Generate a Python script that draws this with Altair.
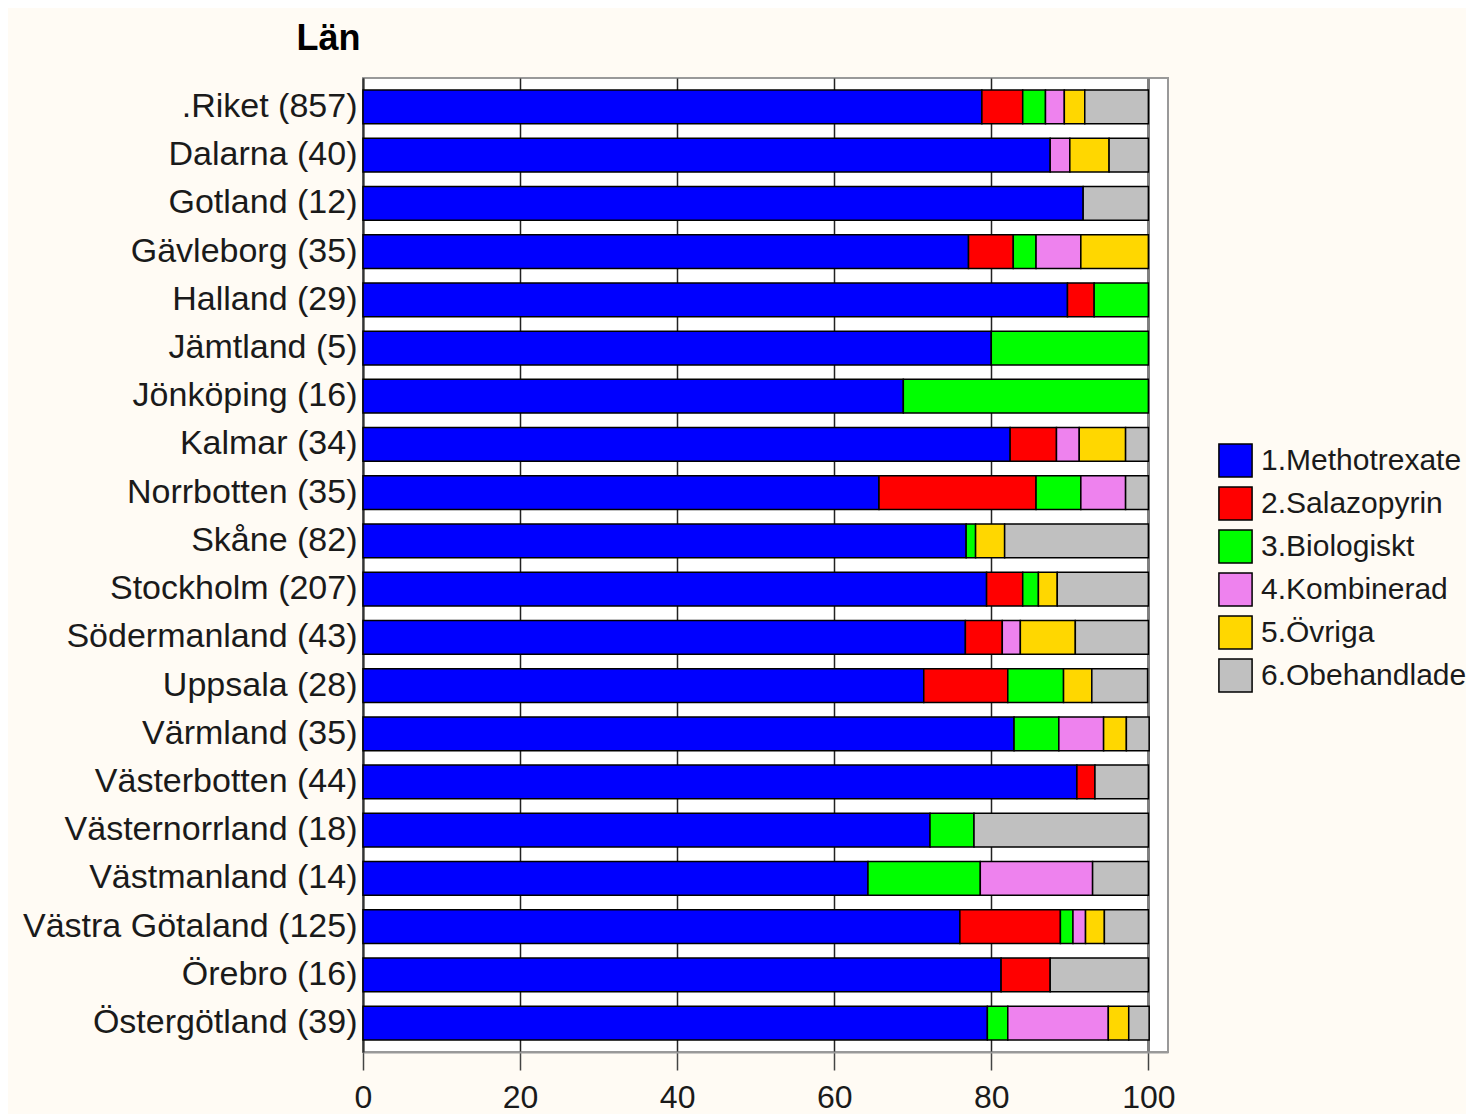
import altair as alt
import pandas as pd

lan = [".Riket (857)", "Dalarna (40)", "Gotland (12)", "Gävleborg (35)", "Halland (29)",
       "Jämtland (5)", "Jönköping (16)", "Kalmar (34)", "Norrbotten (35)", "Skåne (82)",
       "Stockholm (207)", "Södermanland (43)", "Uppsala (28)", "Värmland (35)",
       "Västerbotten (44)", "Västernorrland (18)", "Västmanland (14)",
       "Västra Götaland (125)", "Örebro (16)", "Östergötland (39)"]

kategorier = ["1.Methotrexate", "2.Salazopyrin", "3.Biologiskt", "4.Kombinerad", "5.Övriga", "6.Obehandlade"]
farger = ["#0000FF", "#FF0000", "#00FF00", "#EE82EE", "#FFD700", "#C0C0C0"]

methotrexate = [78.8, 87.5, 91.7, 77.1, 89.7, 80.0, 68.8, 82.4, 65.7, 76.8, 79.4, 76.7, 71.4, 82.9, 90.9, 72.2, 64.3, 76.0, 81.25, 79.5]
salazopyrin  = [5.2, 0.0, 0.0, 5.7, 3.4, 0.0, 0.0, 5.9, 20.0, 0.0, 4.6, 4.7, 10.7, 0.0, 2.3, 0.0, 0.0, 12.8, 6.25, 0.0]
biologiskt   = [2.9, 0.0, 0.0, 2.9, 6.9, 20.0, 31.2, 0.0, 5.7, 1.2, 2.0, 0.0, 7.1, 5.7, 0.0, 5.6, 14.3, 1.6, 0.0, 2.6]
kombinerad   = [2.4, 2.5, 0.0, 5.7, 0.0, 0.0, 0.0, 2.9, 5.7, 0.0, 0.0, 2.3, 0.0, 5.7, 0.0, 0.0, 14.3, 1.6, 0.0, 12.8]
ovriga       = [2.6, 5.0, 0.0, 8.6, 0.0, 0.0, 0.0, 5.9, 0.0, 3.7, 2.4, 7.0, 3.6, 2.9, 0.0, 0.0, 0.0, 2.4, 0.0, 2.6]
obehandlade  = [8.1, 5.0, 8.3, 0.0, 0.0, 0.0, 0.0, 2.9, 2.9, 18.3, 11.6, 9.3, 7.1, 2.9, 6.8, 22.2, 7.1, 5.6, 12.5, 2.6]

serier = [methotrexate, salazopyrin, biologiskt, kombinerad, ovriga, obehandlade]
rows = []
for ci, (kat, vals) in enumerate(zip(kategorier, serier)):
    for l, v in zip(lan, vals):
        rows.append({"lan": l, "kategori": kat, "idx": ci, "value": v})
df = pd.DataFrame(rows)

FONT = "Liberation Sans"

chart = alt.Chart(df).transform_filter("datum.value > 0").mark_bar(
    stroke="black", strokeWidth=1.5
).encode(
    x=alt.X("value:Q", stack="zero",
            scale=alt.Scale(domain=[0, 102.5], nice=False),
            axis=alt.Axis(values=[0, 20, 40, 60, 80, 100], title=None, grid=True,
                          gridColor=alt.condition("datum.value == 100", alt.value("#808080"), alt.value("#222222")),
                          gridWidth=alt.condition("datum.value == 100", alt.value(3), alt.value(1.5)),
                          tickSize=18, tickColor="#444444", tickWidth=1.5,
                          labelFont=FONT, labelFontSize=32, labelColor="#1a1a1a", labelPadding=12,
                          domainColor="#999999", domainWidth=2, labelFlush=False)),
    y=alt.Y("lan:N", sort=lan,
            scale=alt.Scale(paddingInner=0.3, paddingOuter=0.25),
            axis=alt.Axis(title="Län", titleAngle=0, titleAlign="right", titleBaseline="alphabetic",
                          titleX=-3, titleY=-29, titleFont=FONT, titleFontSize=36,
                          titleFontWeight="bold", titleColor="black",
                          ticks=False, labelFont=FONT, labelFontSize=34, labelColor="#1a1a1a",
                          labelPadding=6, labelLimit=500, domainColor="#333333", domainWidth=2)),
    color=alt.Color("kategori:N",
                    scale=alt.Scale(domain=kategorier, range=farger),
                    legend=alt.Legend(title=None, orient="none", legendX=855, legendY=365,
                                      symbolType="square", symbolSize=1100,
                                      symbolStrokeColor="black", symbolStrokeWidth=1.5,
                                      symbolOpacity=1,
                                      labelFont=FONT, labelFontSize=30, labelColor="#1a1a1a",
                                      labelLimit=400, labelOffset=8, rowPadding=2)),
    order=alt.Order("idx:Q", sort="ascending"),
).properties(
    width=805, height=974,
    autosize=alt.AutoSizeParams(type="none"),
    padding={"left": 355, "top": 70, "right": 298, "bottom": 62},
    background="#FFFBF4",
).configure_view(
    fill="white", stroke="#999999", strokeWidth=2
)

chart.save("out.html", embed_options={"renderer": "svg", "actions": False})
